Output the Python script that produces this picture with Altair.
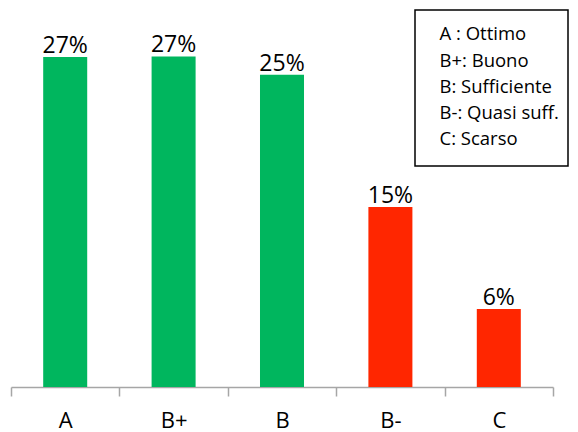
import altair as alt
import pandas as pd

grades = ["A", "B+", "B", "B-", "C"]
values = [27.05, 27.1, 25.6, 14.75, 6.4]
value_labels = ["27%", "27%", "25%", "15%", "6%"]
bar_colors = ["#00B65E", "#00B65E", "#00B65E", "#FF2600", "#FF2600"]
legend_texts = ["A : Ottimo", "B+: Buono", "B: Sufficiente", "B-: Quasi suff.", "C: Scarso"]

df = pd.DataFrame({"grade": grades, "value": values, "label": value_labels})

label_expr = "".join(
    f"datum.label === '{g}' ? '{t}' : " for g, t in zip(grades, legend_texts)
) + "datum.label"

FONT = "Open Sans"

x_enc = alt.X(
    "grade:N",
    sort=grades,
    scale=alt.Scale(paddingInner=0, paddingOuter=0),
    axis=alt.Axis(
        title=None,
        labelAngle=0,
        labelFont=FONT,
        labelFontSize=22,
        labelColor="black",
        labelBaseline="top",
        labelPadding=14,
        domainColor="#A6A6A6",
        domainWidth=1.5,
        tickColor="#A6A6A6",
        tickWidth=1.5,
        tickSize=9,
        tickBand="extent",
    ),
)
y_enc = alt.Y(
    "value:Q",
    scale=alt.Scale(domain=[0, 30], nice=False),
    axis=None,
)

bars = alt.Chart(df).mark_bar(width=alt.RelativeBandSize(0.406)).encode(
    x=x_enc,
    y=y_enc,
    color=alt.Color(
        "grade:N",
        sort=grades,
        scale=alt.Scale(domain=grades, range=bar_colors),
        legend=alt.Legend(
            title=None,
            orient="none",
            legendX=410,
            legendY=4,
            padding=0,
            symbolSize=0,
            symbolOpacity=0,
            symbolStrokeWidth=0,
            labelOffset=0,
            labelFont=FONT,
            labelFontSize=18.5,
            labelColor="black",
            rowPadding=7.3,
            labelLimit=300,
            labelExpr=label_expr,
        ),
    ),
)

texts = alt.Chart(df).mark_text(
    font=FONT, fontSize=23, color="black", baseline="alphabetic", dy=-4
).encode(
    x=alt.X("grade:N", sort=grades),
    y=alt.Y("value:Q"),
    text="label:N",
)

box = alt.Chart(pd.DataFrame({"k": [0]})).mark_rect(
    fill="white", stroke="black", strokeWidth=1.5
).encode(
    x=alt.value(404),
    x2=alt.value(557),
    y=alt.value(-11),
    y2=alt.value(145),
)

chart = (
    alt.layer(box, bars, texts)
    .properties(
        width=542,
        height=366,
        padding={"left": 3, "top": 13, "right": 17, "bottom": 45},
        autosize=alt.AutoSizeParams(type="none"),
        background="white",
    )
    .configure_view(stroke=None)
)

chart.save("out.html", embed_options={"renderer": "svg", "actions": False})
